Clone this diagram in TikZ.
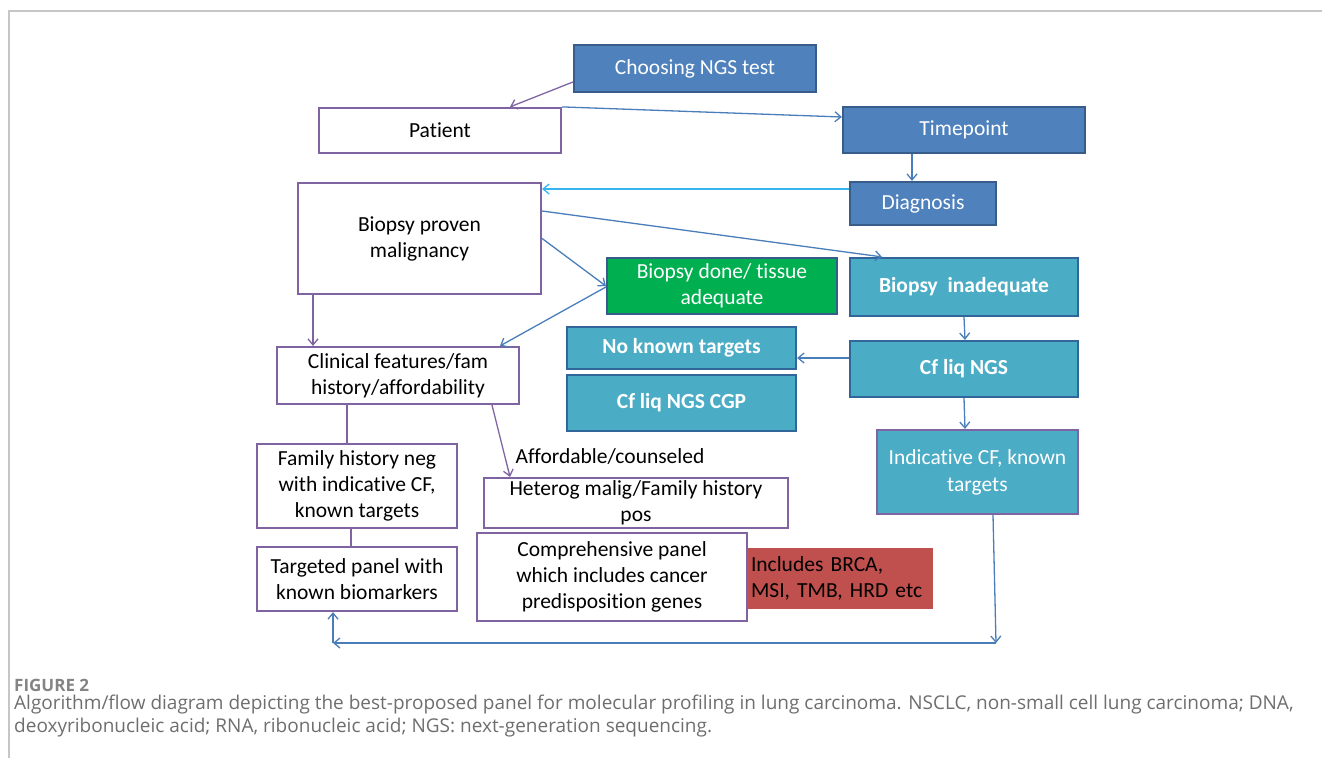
\documentclass[tikz,border=0pt]{standalone}
\usepackage{fontspec}
\setmainfont{Carlito}[Ligatures=NoCommon]
\newfontfamily\capfont{Open Sans}
\usetikzlibrary{arrows.meta}

\definecolor{offblue}{HTML}{4F81BD}
\definecolor{offblueline}{HTML}{385D8A}
\definecolor{offteal}{HTML}{4BACC6}
\definecolor{offtealline}{HTML}{31669A}
\definecolor{offgreen}{HTML}{00B050}
\definecolor{offred}{HTML}{C0504D}
\definecolor{offpurple}{HTML}{8064A2}
\definecolor{edgeblue}{HTML}{4A7EBB}
\definecolor{edgesky}{HTML}{37B5F0}
\definecolor{capgray}{HTML}{6E6E6E}

\tikzset{
  BoxStyle/.style = {shape = rectangle, inner sep = 0pt, align = center,
                     font = \fontsize{21.5}{26}\selectfont},
  WhiteBox/.style = {BoxStyle, draw = offpurple, line width = 2.2pt, fill = white},
  BlueBox/.style  = {BoxStyle, draw = offblueline, line width = 2.2pt, fill = offblue, text = white},
  TealBox/.style  = {BoxStyle, draw = offtealline, line width = 2.2pt, fill = offteal, text = white,
                     font = \fontsize{21.5}{26}\selectfont\bfseries},
  EdgeStyle/.style = {edgeblue, line width = 1.3pt, -{Straight Barb[length=6pt,width=10pt]}},
  PurpleEdge/.style = {offpurple, line width = 1.3pt}
}

\begin{document}
\begin{tikzpicture}[x=1pt, y=-1pt]
\useasboundingbox (0,0) rectangle (1322,758);
\draw[gray!45, line width=1.5pt] (9,758) -- (9,11) -- (1322,11);

% top row
   \node[BlueBox, minimum width=242, minimum height=47] (choose) at (695,68.5) {Choosing NGS test};
   \node[WhiteBox, minimum width=242, minimum height=45] (patient) at (440,130.5) {Patient};
   \node[BlueBox, minimum width=242, minimum height=46] (timepoint) at (964,130) {Timepoint};
   \node[BlueBox, minimum width=146, minimum height=43] (diagnosis) at (923,203.5) {Diagnosis};

% middle
   \node[WhiteBox, minimum width=243, minimum height=111] (proven) at (419.5,238.5) {Biopsy proven\\malignancy};
   \node[BlueBox, fill=offgreen, minimum width=230, minimum height=56] (adequate) at (722,286) {Biopsy done/ tissue\\adequate};
   \node[TealBox, minimum width=228, minimum height=58] (inadequate) at (964,287) {Biopsy\ \ inadequate};
   \node[TealBox, minimum width=229, minimum height=42] (noknown) at (681.5,348) {No known targets};
   \node[TealBox, minimum width=229, minimum height=56] (cgp) at (681.5,403) {Cf liq NGS CGP};
   \node[TealBox, minimum width=228, minimum height=56] (cfliq) at (964,369) {Cf liq NGS};
   \node[TealBox, draw=offpurple, font=\fontsize{21.5}{27}\selectfont,
         minimum width=201, minimum height=84] (indicative) at (977.5,472) {Indicative CF, known\\targets};
   \node[WhiteBox, minimum width=242, minimum height=57] (clinical) at (398,375.5) {Clinical features/fam\\history/affordability};

% bottom
   \node[WhiteBox, minimum width=200, minimum height=84] (famneg) at (357,486) {Family history neg\\with indicative CF,\\known targets};
   \node[WhiteBox, minimum width=304, minimum height=50] (heterog) at (636,503) {Heterog malig/Family history\\pos};
   \node[BoxStyle] (afford) at (610,456) {Affordable/counseled};
   \node[WhiteBox, minimum width=200, minimum height=64] (targeted) at (357,579) {Targeted panel with\\known biomarkers};
   \node[WhiteBox, minimum width=270, minimum height=88] (comprehensive) at (612,577) {Comprehensive panel\\which includes cancer\\predisposition genes};
   \node[BoxStyle, fill=offred, align=left, minimum width=186, minimum height=61,
         text width=178, inner xsep=4pt] (brca) at (840,578.5) {Includes BRCA,\\MSI, TMB, HRD etc};

% connectors
   \draw[EdgeStyle, offpurple] ([yshift=-13.5]choose.west) -- ([xshift=70]patient.north);
   \draw[EdgeStyle] (patient.north east) -- ([yshift=13]timepoint.west);
   \draw[EdgeStyle] ([xshift=-52]timepoint.south) -- ([xshift=-11]diagnosis.north);
   \draw[EdgeStyle, edgesky] ([yshift=14.5]diagnosis.west) -- ([yshift=49.5]proven.east);
   \draw[EdgeStyle] ([yshift=27.5]proven.east) -- ([xshift=-82]inadequate.north);
   \draw[EdgeStyle] (proven.east) -- (adequate.west);
   \draw[EdgeStyle] ([yshift=-1]adequate.west) -- ([xshift=102]clinical.north);
   \draw[EdgeStyle, offpurple] ([xshift=-106.5]proven.south) -- ([xshift=-85]clinical.north);
   \draw[EdgeStyle] (inadequate.south) -- ([xshift=1]cfliq.north);
   \draw[EdgeStyle] ([yshift=11]cfliq.west) -- ([yshift=-10]noknown.east);
   \draw[EdgeStyle] (cfliq.south) -- ([xshift=-12.5]indicative.north);
   \draw[PurpleEdge] ([xshift=-51]clinical.south) -- ([xshift=-10]famneg.north);
   \draw[EdgeStyle, offpurple] ([xshift=94]clinical.south) -- ([xshift=-126]heterog.north);
   \draw[PurpleEdge] ([xshift=-6]famneg.south) -- ([xshift=-6]targeted.north);

   \coordinate (br) at (996,643);
   \coordinate (bl) at (333,643);
   \draw[EdgeStyle] ([xshift=15.5]indicative.south) -- (br);
   \draw[EdgeStyle] (br) -- (bl);
   \draw[EdgeStyle] (bl) -- ([xshift=-24]targeted.south);

% caption
   \node[anchor=west, inner sep=0pt, text=capgray!85, font=\capfont\fontsize{17}{19}\selectfont\bfseries] (capnum) at (14,685) {FIGURE 2};
   \node[anchor=west, inner sep=0pt, text=capgray, font=\capfont\fontsize{19}{22}\selectfont] (capone) at (14,705) {Algorithm/flow diagram depicting the best-proposed panel for molecular profiling in lung carcinoma. NSCLC, non-small cell lung carcinoma; DNA,};
   \node[anchor=west, inner sep=0pt, text=capgray, font=\capfont\fontsize{19}{22}\selectfont] (captwo) at (14,728) {deoxyribonucleic acid; RNA, ribonucleic acid; NGS: next-generation sequencing.};
\end{tikzpicture}
\end{document}
